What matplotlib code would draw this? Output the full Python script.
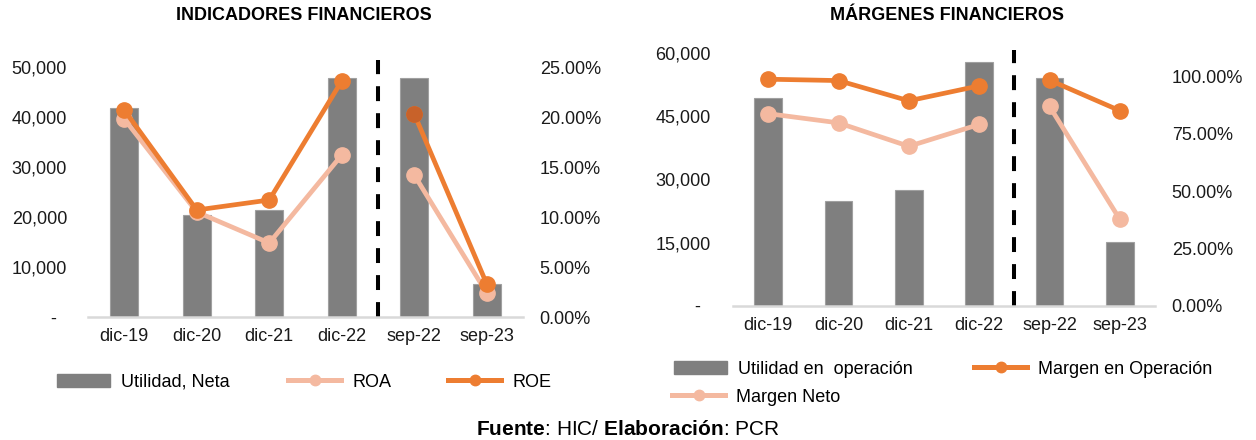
import numpy as np
import matplotlib
matplotlib.use("Agg")
import matplotlib.pyplot as plt
from matplotlib.ticker import FuncFormatter
from matplotlib.lines import Line2D
from matplotlib.patches import Patch

plt.rcParams['font.family'] = ['Liberation Sans', 'DejaVu Sans']
plt.rcParams['mathtext.fontset'] = 'custom'
plt.rcParams['mathtext.rm'] = 'Liberation Sans'
plt.rcParams['mathtext.bf'] = 'Liberation Sans:bold'

periodos = ['dic-19', 'dic-20', 'dic-21', 'dic-22', 'sep-22', 'sep-23']

# Indicadores financieros
utilidad_neta = [41800, 20300, 21300, 47700, 47800, 6700]
roa = [19.8, 10.5, 7.4, 16.2, 14.2, 2.4]
roe = [20.7, 10.7, 11.7, 23.6, 20.3, 3.3]

# Margenes financieros
utilidad_operacion = [49400, 25000, 27400, 57900, 54100, 15200]
margen_operacion = [98.7, 98.1, 89.3, 95.8, 98.3, 85.0]
margen_neto = [83.7, 79.7, 69.5, 79.0, 86.9, 37.7]

GRIS = '#7f7f7f'
NARANJA = '#ed7d31'
SALMON = '#f4b9a0'
W, H = 1256, 440
FS = 13

fig = plt.figure(figsize=(W / 100, H / 100), dpi=100)


def miles(v, pos):
    return '-  ' if v == 0 else f'{v:,.0f}'


def pct(v, pos):
    return f'{v:.2f}%'


def panel(rect, barras, l1, l2, c1, c2, ymax, yticks, pmax, pticks, titulo, tx,
          padl, top_dash):
    ax = fig.add_axes(rect)
    x = np.arange(len(periodos))
    ax.bar(x, barras, width=0.39, color=GRIS, edgecolor='#a0a0a0', linewidth=0.8, zorder=2)
    ax.set_xlim(-0.5, 5.5)
    ax.set_ylim(0, ymax)
    ax.set_yticks(yticks)
    ax.yaxis.set_major_formatter(FuncFormatter(miles))
    ax.set_xticks(x)
    ax.set_xticklabels(periodos)
    for s in ['top', 'right', 'left']:
        ax.spines[s].set_visible(False)
    ax.spines['bottom'].set_color('#d9d9d9')
    ax.spines['bottom'].set_linewidth(1.8)
    ax.tick_params(length=0, labelsize=FS, colors='#1a1a1a')
    ax.tick_params(axis='x', pad=8)
    ax.tick_params(axis='y', pad=padl)
    ax.axvline(3.5, ymin=0, ymax=top_dash, color='black', lw=2.9, ls=(0, (3.7, 3.0)),
               clip_on=False, zorder=1)

    ax2 = ax.twinx()
    ax2.set_ylim(0, pmax)
    ax2.set_yticks(pticks)
    ax2.yaxis.set_major_formatter(FuncFormatter(pct))
    for s in ax2.spines.values():
        s.set_visible(False)
    ax2.tick_params(length=0, labelsize=FS, colors='#1a1a1a', pad=12)
    for serie, c, z in [(l1, c1, 3), (l2, c2, 4)]:
        ax2.plot(x[:4], serie[:4], color=c, lw=3.4, marker='o', ms=11, zorder=z)
        ax2.plot(x[4:], serie[4:], color=c, lw=3.4, marker='o', ms=11, zorder=z)
    fig.text(tx / W, 1 - 16 / H, titulo, ha='center', va='center',
             fontsize=FS, fontweight='bold')
    return ax, ax2


ax, ax2 = panel([88 / W, 1 - 317 / H, 435 / W, 250 / H], utilidad_neta, roa, roe,
                SALMON, NARANJA, 50000, range(0, 50001, 10000), 25,
                np.arange(0, 25.1, 5), 'INDICADORES FINANCIEROS', 304, 15, 1.028)
# punto ROE sep-22 mas oscuro
ax2.plot([4], [roe[4]], 'o', color='#c8622a', ms=11, zorder=5)

bx, bx2 = panel([733 / W, 1 - 306 / H, 422 / W, 253 / H], utilidad_operacion,
                margen_neto, margen_operacion, SALMON, NARANJA, 60000,
                range(0, 60001, 15000), 110.1, np.arange(0, 100.1, 25),
                'MÁRGENES FINANCIEROS', 947, 16, 1.01)


def entrada(handle, x0, y0):
    fig.legend(handles=[handle], loc='center left', bbox_to_anchor=(x0 / W, 1 - y0 / H),
               frameon=False, fontsize=FS, handlelength=2.95, handletextpad=0.6,
               borderpad=0, borderaxespad=0)


kw = dict(lw=3.6, marker='o', ms=7.5)
entrada(Patch(color=GRIS, label='Utilidad, Neta'), 57, 382)
entrada(Line2D([], [], color=SALMON, label='ROA', **kw), 288, 382)
entrada(Line2D([], [], color=NARANJA, label='ROE', **kw), 448, 382)
entrada(Patch(color=GRIS, label='Utilidad en  operación'), 674, 369)
entrada(Line2D([], [], color=NARANJA, label='Margen en Operación', **kw), 974, 369)
entrada(Line2D([], [], color=SALMON, label='Margen Neto', **kw), 672, 397)

fig.text(628 / W, 1 - 429 / H, r'$\bf{Fuente}$: HIC/ $\bf{Elaboración}$: PCR', ha='center',
         va='center', fontsize=15)

fig.savefig('out.png', dpi=100)
